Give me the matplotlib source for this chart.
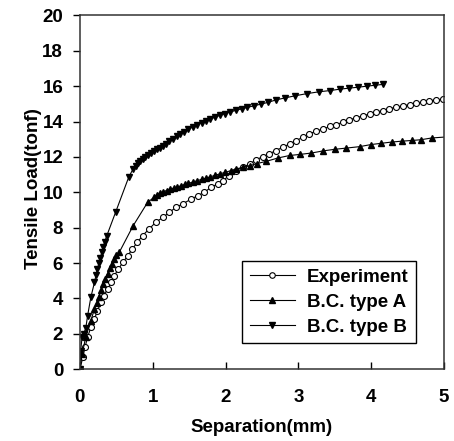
import numpy as np
import matplotlib
matplotlib.use('Agg')
import matplotlib.pyplot as plt

plt.rcParams['font.family'] = ['Liberation Sans', 'DejaVu Sans']
plt.rcParams['font.weight'] = 'bold'
plt.rcParams['axes.labelweight'] = 'bold'

# Experiment (open circles)
exp_x = [0, 0.04, 0.07, 0.105, 0.15, 0.2, 0.24, 0.29, 0.33, 0.38, 0.43, 0.47, 0.53, 0.59,
         0.66, 0.72, 0.79, 0.86, 0.95, 1.04, 1.14, 1.23, 1.32, 1.41, 1.53, 1.62, 1.71, 1.8,
         1.89, 1.96, 2.05, 2.14, 2.24, 2.33, 2.42, 2.51, 2.6, 2.69, 2.79, 2.88, 2.97, 3.06,
         3.15, 3.24, 3.34, 3.43, 3.52, 3.61, 3.7, 3.79, 3.89, 3.98, 4.07, 4.16, 4.25, 4.34,
         4.44, 4.53, 4.62, 4.71, 4.8, 4.89, 4.99]
exp_y = [0, 0.66, 1.23, 1.8, 2.36, 2.83, 3.3, 3.77, 4.15, 4.53, 4.9, 5.28, 5.66, 6.04,
         6.42, 6.8, 7.17, 7.55, 7.92, 8.3, 8.58, 8.87, 9.15, 9.34, 9.62, 9.81, 10.0, 10.28,
         10.47, 10.66, 10.94, 11.23, 11.42, 11.6, 11.83, 12.02, 12.17, 12.36, 12.55, 12.74, 12.92, 13.11,
         13.3, 13.45, 13.58, 13.72, 13.83, 13.96, 14.09, 14.21, 14.32, 14.43, 14.53, 14.62, 14.72, 14.81,
         14.89, 14.96, 15.04, 15.11, 15.17, 15.23, 15.26]

# B.C. type A (up triangles)
a_x = [0, 0.03, 0.08, 0.15, 0.2, 0.23, 0.26, 0.29, 0.32, 0.35, 0.38, 0.41, 0.44, 0.47, 0.5, 0.54,
       0.73, 0.93, 1.02, 1.06, 1.10, 1.14, 1.19, 1.24, 1.29, 1.34, 1.39, 1.44, 1.49,
       1.55, 1.61, 1.67, 1.73, 1.78, 1.85, 1.92, 1.99, 2.07, 2.15, 2.24, 2.33, 2.43, 2.56, 2.72,
       2.88, 3.02, 3.18, 3.34, 3.50, 3.66, 3.84, 4.0, 4.14, 4.28, 4.42, 4.56, 4.68, 4.83, 5.0]
a_y = [0, 0.85, 1.8, 2.74, 3.4, 3.75, 4.1, 4.45, 4.8, 5.1, 5.4, 5.7, 5.95, 6.2, 6.45, 6.6,
       8.1, 9.43, 9.72, 9.85, 9.95, 10.02, 10.1, 10.17, 10.24, 10.3, 10.37, 10.44, 10.5,
       10.58, 10.65, 10.73, 10.8, 10.86, 10.95, 11.04, 11.12, 11.22, 11.32, 11.42, 11.5, 11.62, 11.75, 11.94,
       12.08, 12.14, 12.22, 12.34, 12.43, 12.5, 12.58, 12.7, 12.77, 12.84, 12.89, 12.93, 12.97, 13.07, 13.12]

# B.C. type B (down triangles)
b_x = [0, 0.01, 0.03, 0.05, 0.08, 0.105, 0.15, 0.2, 0.22, 0.24, 0.26, 0.28, 0.3, 0.32, 0.34, 0.37,
       0.49, 0.67, 0.73, 0.77, 0.80, 0.83, 0.86, 0.90, 0.94, 0.98, 1.02, 1.06, 1.10, 1.14, 1.18,
       1.23, 1.28, 1.33, 1.38, 1.43, 1.49, 1.55, 1.61, 1.67, 1.73, 1.79, 1.85, 1.92, 1.99, 2.06,
       2.14, 2.22, 2.30, 2.39, 2.48, 2.58, 2.69, 2.82, 2.96, 3.12, 3.28, 3.43, 3.57, 3.70, 3.82,
       3.94, 4.05, 4.16]
b_y = [0, 1.04, 1.8, 2.0, 2.3, 3.0, 4.06, 4.9, 5.3, 5.65, 6.0, 6.3, 6.6, 6.9, 7.2, 7.55,
       8.87, 10.85, 11.32, 11.5, 11.65, 11.78, 11.88, 12.0, 12.12, 12.22, 12.33, 12.43, 12.53, 12.62, 12.75,
       12.9, 13.03, 13.17, 13.3, 13.42, 13.56, 13.7, 13.82, 13.93, 14.04, 14.14, 14.24, 14.35, 14.45, 14.54,
       14.63, 14.72, 14.8, 14.89, 14.98, 15.08, 15.22, 15.34, 15.46, 15.58, 15.68, 15.75, 15.83, 15.89, 15.94,
       16.0, 16.05, 16.1]

fs = 13.5

fig = plt.figure(figsize=(4.54, 4.41), dpi=100)
ax = fig.add_axes([0.176, 0.163, 0.802, 0.802])

ax.plot(exp_x, exp_y, color='black', lw=0.8, marker='o', ms=4.3,
        mfc='white', mec='black', mew=0.8, label='Experiment')
ax.plot(a_x, a_y, color='black', lw=0.8, marker='^', ms=5, mfc='black', mec='black',
        markevery=list(range(len(a_x) - 1)), label='B.C. type A')
ax.plot(b_x, b_y, color='black', lw=0.8, marker='v', ms=5, mfc='black', mec='black',
        label='B.C. type B')

ax.set_xlim(0, 5)
ax.set_ylim(0, 20)
ax.set_xticks([0, 1, 2, 3, 4, 5])
ax.set_yticks(np.arange(0, 21, 2))
ax.tick_params(axis='x', direction='in', length=5, width=1, labelsize=fs, pad=14, top=False)
ax.tick_params(axis='y', direction='out', length=5, width=1, labelsize=fs, pad=7, right=False)
for s in ax.spines.values():
    s.set_linewidth(1.1)
    s.set_color('#333333')

ax.set_xlabel('Separation(mm)', fontsize=fs, labelpad=10)
ax.set_ylabel('Tensile Load(tonf)', fontsize=fs)
ax.yaxis.set_label_coords(-0.104, 0.51)

leg = ax.legend(loc='lower right', bbox_to_anchor=(0.923, 0.0735), borderaxespad=0,
                prop={'size': fs, 'weight': 'bold'},
                frameon=True, fancybox=False, edgecolor='black', framealpha=1,
                handlelength=2.4, borderpad=0.4, labelspacing=0.42, handletextpad=0.65)
leg.get_frame().set_linewidth(1)
for h in leg.legend_handles:
    h.set_markersize(4)

fig.savefig('out.png', dpi=100)
